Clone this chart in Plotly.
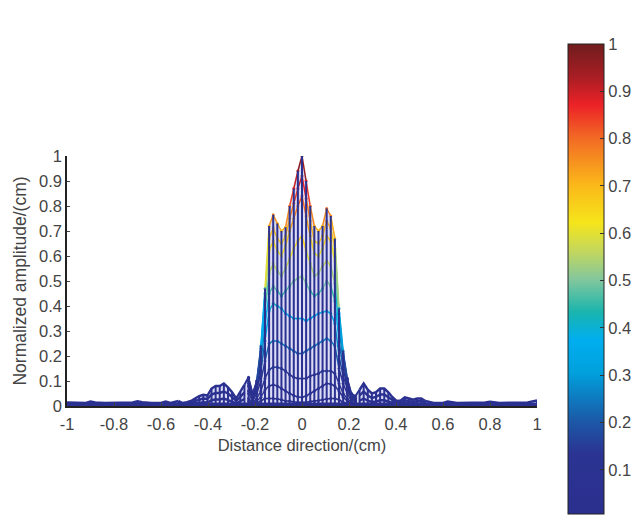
import plotly.graph_objects as go

X_CENTRAL = [-.2275,-.21,-.1925,-.175,-.1575,-.14,-.1225,-.105,-.0875,-.07,-.0525,-.035,-.0175,0,.0175,.035,.0525,.07,.0875,.105,.1225,.14,.1575,.175,.1925,.21,.2275]
ROWS_CENTRAL = [
 [.01,.01,.012,.02,.03,.03,.03,.028,.025,.02,.02,.016,.015,.015,.015,.018,.02,.022,.025,.028,.03,.03,.025,.015,.01,.01,.005],
 [.02,.01,.02,.035,.065,.08,.085,.08,.07,.06,.05,.042,.036,.035,.04,.05,.06,.07,.08,.09,.088,.08,.06,.035,.02,.01,.01],
 [.03,.015,.03,.06,.11,.145,.155,.155,.15,.14,.125,.115,.11,.11,.11,.12,.125,.13,.14,.14,.14,.13,.09,.05,.03,.015,.01],
 [.05,.02,.05,.10,.18,.25,.26,.26,.25,.24,.23,.22,.21,.21,.22,.23,.24,.25,.26,.27,.26,.24,.15,.09,.05,.02,.02],
 [.06,.03,.06,.14,.26,.38,.41,.40,.39,.37,.36,.35,.35,.35,.34,.35,.36,.37,.375,.38,.37,.33,.20,.12,.07,.03,.02],
 [.08,.03,.07,.17,.32,.45,.48,.46,.44,.46,.48,.50,.51,.52,.49,.46,.44,.45,.47,.50,.48,.42,.26,.15,.08,.03,.02],
 [.09,.04,.08,.20,.38,.53,.57,.54,.52,.55,.59,.63,.66,.68,.62,.57,.52,.53,.56,.58,.56,.49,.31,.18,.09,.03,.03],
 [.10,.04,.09,.22,.42,.62,.66,.62,.60,.64,.70,.75,.80,.84,.76,.68,.61,.60,.63,.68,.66,.58,.35,.20,.10,.04,.03],
 [.11,.05,.10,.23,.45,.67,.71,.67,.65,.68,.75,.81,.87,.92,.83,.74,.66,.65,.68,.74,.71,.63,.37,.21,.11,.05,.03],
 [.115,.05,.10,.24,.47,.72,.765,.73,.70,.715,.80,.87,.94,1.0,.90,.80,.72,.70,.72,.79,.76,.67,.39,.22,.11,.05,.04],
]
X_LEFT = [-.525,-.5075,-.49,-.4725,-.455,-.4375,-.42,-.4025,-.385,-.3675,-.35,-.3325,-.315,-.2975,-.28,-.2625,-.245]
LEFT_TOP = [.02,.012,.015,.02,.03,.04,.045,.042,.07,.08,.08,.09,.075,.055,.03,.055,.085]
LEFT_MID = [.012,.008,.01,.013,.02,.026,.03,.028,.046,.052,.052,.058,.05,.036,.02,.036,.055]
LEFT_LOW = [.006,.004,.005,.007,.01,.013,.015,.014,.023,.026,.026,.03,.025,.018,.01,.018,.028]
X_RIGHT = [.245,.2625,.28,.2975,.315,.3325,.35,.3675,.385,.4025,.42,.4375,.455,.4725,.49,.5075,.525]
RIGHT_TOP = [.065,.09,.065,.05,.055,.07,.07,.055,.035,.02,.022,.035,.03,.025,.03,.03,.02]
RIGHT_MID = [.042,.058,.042,.032,.036,.046,.046,.036,.023,.013,.014,.023,.02,.016,.02,.02,.013]
RIGHT_LOW = [.021,.03,.021,.016,.018,.023,.023,.018,.012,.007,.007,.012,.01,.008,.01,.01,.007]
X_TAIL_L = [-1,-.96,-.92,-.90,-.88,-.84,-.80,-.76,-.72,-.70,-.68,-.64,-.60,-.58,-.56]
Y_TAIL_L = [.014,.012,.012,.018,.014,.012,.012,.013,.014,.019,.015,.012,.012,.018,.012]
X_TAIL_R = [.56,.60,.62,.66,.70,.74,.78,.80,.84,.88,.92,.96,1]
Y_TAIL_R = [.012,.012,.018,.012,.012,.012,.014,.017,.012,.013,.012,.014,.022]
TICK_X = [-1,-.8,-.6,-.4,-.2,0,.2,.4,.6,.8,1]
TICK_X_TEXT = ['-1','-0.8','-0.6','-0.4','-0.2','0','0.2','0.4','0.6','0.8','1']
TICK_Y = [0,.1,.2,.3,.4,.5,.6,.7,.8,.9,1]
TICK_Y_TEXT = ['0','0.1','0.2','0.3','0.4','0.5','0.6','0.7','0.8','0.9','1']
TICK_C = [.1,.2,.3,.4,.5,.6,.7,.8,.9,1]
TICK_C_TEXT = ['0.1','0.2','0.3','0.4','0.5','0.6','0.7','0.8','0.9','1']

NAVY = '#2b3190'
TEXT = '#444444'
JET = [(0,'#2b2f8e'),(.13,'#2b3492'),(.2,'#1b5aa8'),(.3,'#00a0dc'),(.37,'#00aeef'),(.43,'#1ab5ae'),
       (.5,'#84c79c'),(.56,'#c4d75c'),(.62,'#f5e51b'),(.7,'#fbb81a'),(.8,'#f26a24'),(.87,'#ec2227'),
       (.93,'#a81e24'),(1,'#701c1e')]

def jet_color(v):
    for (a, ca), (b, cb) in zip(JET, JET[1:]):
        if v <= b:
            t = (v - a) / (b - a)
            c = [round(int(ca[i:i+2],16)*(1-t) + int(cb[i:i+2],16)*t) for i in (1,3,5)]
            return 'rgb(%d,%d,%d)' % tuple(c)
    return JET[-1][1]

fig = go.Figure()

def add_line(xs, ys, color=NAVY, width=1.6, **kw):
    fig.add_trace(go.Scatter(x=xs, y=ys, mode='lines', line=dict(color=color, width=width),
                             hoverinfo='skip', showlegend=False, **kw))

# pale underlay between the mesh columns
env_x = X_LEFT + X_CENTRAL + X_RIGHT
env_y = LEFT_TOP + ROWS_CENTRAL[-1] + RIGHT_TOP
add_line(env_x, env_y, color='#d6d7f2', width=0.5, fill='tozeroy', fillcolor='#dcdcf4')

# tails
add_line(X_TAIL_L + [X_LEFT[0]], Y_TAIL_L + [LEFT_TOP[0]], width=2.5)
add_line([X_RIGHT[-1]] + X_TAIL_R, [RIGHT_TOP[-1]] + Y_TAIL_R, width=2.5)
add_line([-1, 1], [0.006, 0.006], width=4)

# central rows, coloured by height
for r in ROWS_CENTRAL:
    for i in range(len(r) - 1):
        add_line(X_CENTRAL[i:i+2], r[i:i+2], color=jet_color((r[i] + r[i+1]) / 2), width=1.5)

# nodes, which also carry the colour bar
mx, my = [], []
for r in ROWS_CENTRAL:
    mx += X_CENTRAL
    my += r
fig.add_trace(go.Scatter(
    x=mx, y=my, mode='markers', hoverinfo='skip', showlegend=False,
    marker=dict(size=3, color=my, cmin=0.007, cmax=1,
                colorscale=[[a, c] for a, c in JET],
                colorbar=dict(x=(568-67)/470, xanchor='left', xpad=0, ypad=0,
                              y=(406-514)/250, yanchor='bottom',
                              len=470/250, lenmode='fraction', thickness=36, thicknessmode='pixels',
                              tickvals=TICK_C, ticktext=TICK_C_TEXT, ticks='inside', ticklen=4,
                              tickcolor='#333333', tickfont=dict(family='Liberation Sans', size=16.5, color=TEXT),
                              outlinecolor='#222222', outlinewidth=1, borderwidth=0))))

# vertical mesh lines on top
vx, vy = [], []
for xs, tops in [(X_LEFT, LEFT_TOP), (X_CENTRAL, ROWS_CENTRAL[-1]), (X_RIGHT, RIGHT_TOP),
                 (X_TAIL_L, Y_TAIL_L), (X_TAIL_R, Y_TAIL_R)]:
    for x, t in zip(xs, tops):
        vx += [x, x, None]
        vy += [0, t, None]
add_line(vx, vy, width=2)

# outer mesh rows
for xs, rows in [(X_LEFT, [LEFT_LOW, LEFT_MID, LEFT_TOP]), (X_RIGHT, [RIGHT_LOW, RIGHT_MID, RIGHT_TOP])]:
    for r in rows:
        add_line(xs, r, width=2.4)
add_line([X_LEFT[-1], X_CENTRAL[0]], [LEFT_TOP[-1], ROWS_CENTRAL[-1][0]], width=2)
add_line([X_CENTRAL[-1], X_RIGHT[0]], [ROWS_CENTRAL[-1][-1], RIGHT_TOP[0]], width=2)

fig.update_layout(
    width=631, height=508, margin=dict(l=59, r=102, t=148, b=110, autoexpand=False),
    paper_bgcolor='white', plot_bgcolor='white',
    font=dict(family='Liberation Sans', size=16.5, color=TEXT),
    xaxis=dict(range=[-1, 1], tickvals=TICK_X, ticktext=TICK_X_TEXT, ticks='inside', automargin=False,
               ticklen=3, showgrid=False, zeroline=False, showline=True, linecolor='#222222', linewidth=1.5,
               tickfont=dict(size=16.5), ticklabelstandoff=2,
               title=dict(text='Distance direction/(cm)', standoff=8, font=dict(size=16.5, color=TEXT))),
    yaxis=dict(range=[0, 1], tickvals=TICK_Y, ticktext=TICK_Y_TEXT, ticks='inside', automargin=False,
               ticklen=3, showgrid=False, zeroline=False, showline=True, linecolor='#222222', linewidth=1.5,
               tickfont=dict(size=16.5),
               title=dict(text='Normalized amplitude/(cm)', standoff=8, font=dict(size=17.5, color=TEXT))),
)
fig.write_html("out.html")
